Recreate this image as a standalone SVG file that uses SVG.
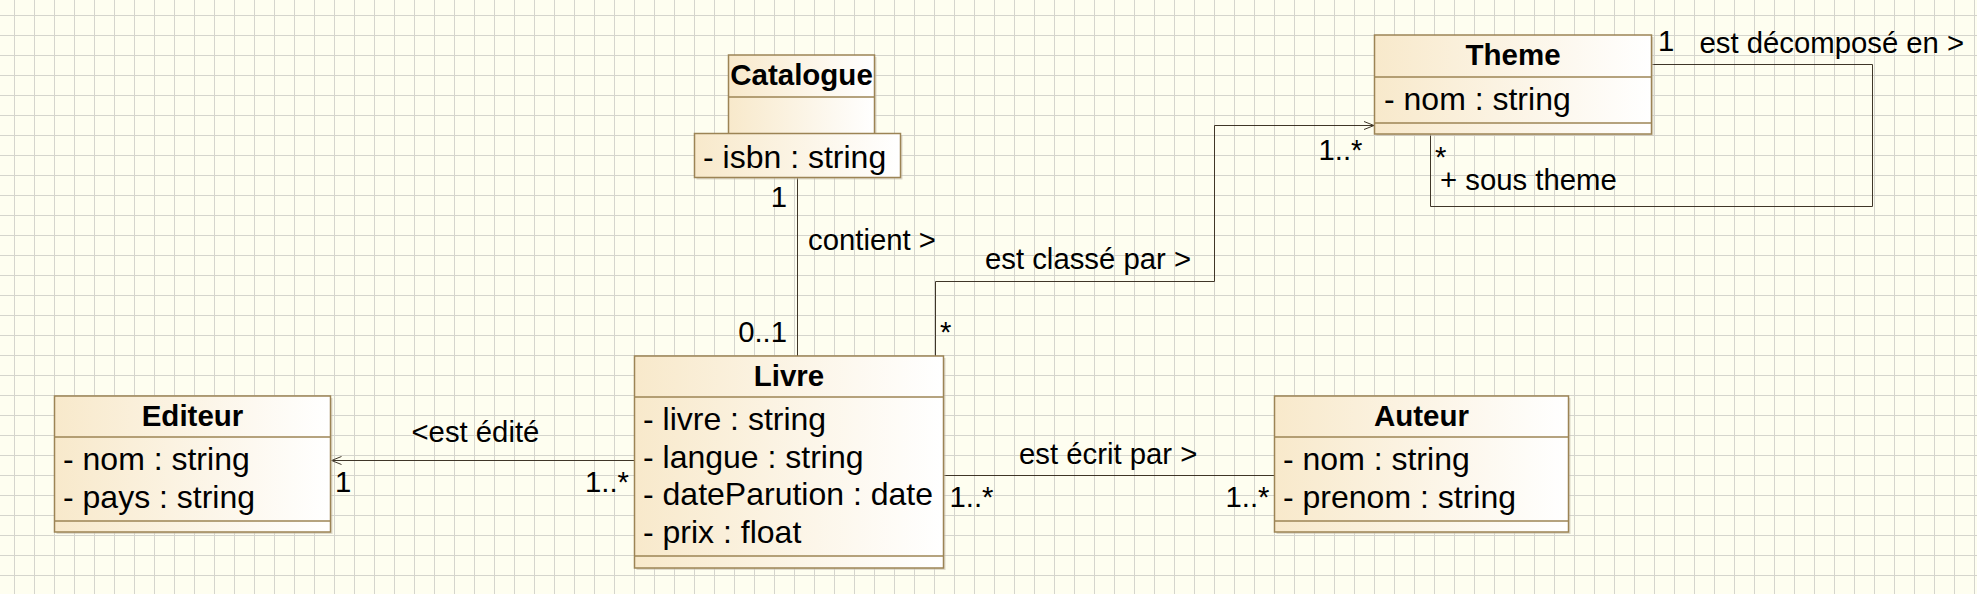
<svg xmlns="http://www.w3.org/2000/svg" width="1977" height="594" viewBox="0 0 1977 594">
<defs>
<pattern id="grid" patternUnits="userSpaceOnUse" x="14" y="15" width="20" height="20">
<path d="M0.5 0V20M0 0.5H20" stroke="#d5d5cd" stroke-width="1" fill="none"/>
</pattern>
<linearGradient id="fill" x1="0" y1="0" x2="1" y2="0">
<stop offset="0" stop-color="#f8e9cb"/>
<stop offset="1" stop-color="#ffffff"/>
</linearGradient>
<marker id="open" markerUnits="userSpaceOnUse" markerWidth="12" markerHeight="10" refX="10" refY="4.5" orient="auto">
<path d="M0,0.5 L10,4.5 L0,8.5" fill="none" stroke="#3f3628" stroke-width="1"/>
</marker>
<style>
.box{fill:url(#fill);stroke:#9c8455;stroke-width:1.5}
.shadow{fill:#c9c2b3;opacity:0.6}
.div{stroke:#9c8455;stroke-width:1.5}
.title{font-family:"Liberation Sans",Arial,sans-serif;font-weight:bold;font-size:29.5px;text-anchor:middle;fill:#000}
.attr{font-family:"Liberation Sans",Arial,sans-serif;font-size:32px;fill:#000}
.lbl{font-family:"Liberation Sans",Arial,sans-serif;font-size:29.3px;fill:#000}
.end{text-anchor:end}
.conn{fill:none;stroke:#3f3628;stroke-width:1}
</style>
</defs>
<rect width="1977" height="594" fill="#fefef0"/>
<rect width="1977" height="594" fill="url(#grid)"/>

<g id="connectors">
<line class="conn" x1="634" y1="460.5" x2="331.5" y2="460.5" marker-end="url(#open)"/>
<line class="conn" x1="797.5" y1="178" x2="797.5" y2="356"/>
<polyline class="conn" points="935.5,356 935.5,281.5 1214.5,281.5 1214.5,125.5 1374,125.5" marker-end="url(#open)"/>
<line class="conn" x1="944" y1="475.5" x2="1274" y2="475.5"/>
<polyline class="conn" points="1651.5,64.5 1872.5,64.5 1872.5,206.5 1430.5,206.5 1430.5,134"/>
<text class="lbl" x="411.5" y="441.7">&lt;est édité</text>
<text class="lbl" x="335" y="491.7">1</text>
<text class="lbl end" x="629" y="491.7">1..*</text>
<text class="lbl end" x="787" y="206.7">1</text>
<text class="lbl" x="808" y="250">contient &gt;</text>
<text class="lbl end" x="787" y="341.7">0..1</text>
<text class="lbl" x="985" y="269.3">est classé par &gt;</text>
<text class="lbl" x="940" y="342">*</text>
<text class="lbl" x="1318.5" y="159.5">1..*</text>
<text class="lbl" x="1019" y="464.3">est écrit par &gt;</text>
<text class="lbl" x="949.5" y="506.7">1..*</text>
<text class="lbl end" x="1269.5" y="506.7">1..*</text>
<text class="lbl" x="1658" y="50.7">1</text>
<text class="lbl" x="1699.5" y="53.3">est décomposé en &gt;</text>
<text class="lbl" x="1435" y="167">*</text>
<text class="lbl" x="1440" y="190">+ sous theme</text>
</g>

<g id="catalogue">
<rect class="shadow" x="730.5" y="57" width="146" height="80"/>
<rect class="box" x="728.5" y="55" width="146" height="80"/>
<line class="div" x1="728.5" y1="97" x2="874.5" y2="97"/>
<text class="title" x="801.5" y="85">Catalogue</text>
<rect class="shadow" x="696.5" y="135.5" width="206" height="44"/>
<rect class="box" x="694.5" y="133.5" width="206" height="44"/>
<text class="attr" x="703" y="168.3">- isbn : string</text>
</g>

<g id="theme">
<rect class="shadow" x="1376.5" y="37" width="277" height="99"/>
<rect class="box" x="1374.5" y="35" width="277" height="99"/>
<line class="div" x1="1374.5" y1="77" x2="1651.5" y2="77"/>
<line class="div" x1="1374.5" y1="123" x2="1651.5" y2="123"/>
<text class="title" x="1513" y="65">Theme</text>
<text class="attr" x="1384" y="110">- nom : string</text>
</g>

<g id="livre">
<rect class="shadow" x="636.5" y="358" width="309" height="212"/>
<rect class="box" x="634.5" y="356" width="309" height="212"/>
<line class="div" x1="634.5" y1="397" x2="943.5" y2="397"/>
<line class="div" x1="634.5" y1="556" x2="943.5" y2="556"/>
<text class="title" x="789" y="385.5">Livre</text>
<text class="attr" x="643" y="430">- livre : string</text>
<text class="attr" x="643" y="467.7">- langue : string</text>
<text class="attr" x="643" y="505.4">- dateParution : date</text>
<text class="attr" x="643" y="543.1">- prix : float</text>
</g>

<g id="editeur">
<rect class="shadow" x="56.5" y="398" width="276" height="136"/>
<rect class="box" x="54.5" y="396" width="276" height="136"/>
<line class="div" x1="54.5" y1="437" x2="330.5" y2="437"/>
<line class="div" x1="54.5" y1="521" x2="330.5" y2="521"/>
<text class="title" x="192.5" y="425.5">Editeur</text>
<text class="attr" x="63" y="470">- nom : string</text>
<text class="attr" x="63" y="507.7">- pays : string</text>
</g>

<g id="auteur">
<rect class="shadow" x="1276.5" y="398" width="294" height="136"/>
<rect class="box" x="1274.5" y="396" width="294" height="136"/>
<line class="div" x1="1274.5" y1="437" x2="1568.5" y2="437"/>
<line class="div" x1="1274.5" y1="521" x2="1568.5" y2="521"/>
<text class="title" x="1421.5" y="425.5">Auteur</text>
<text class="attr" x="1283" y="470">- nom : string</text>
<text class="attr" x="1283" y="507.7">- prenom : string</text>
</g>
</svg>
